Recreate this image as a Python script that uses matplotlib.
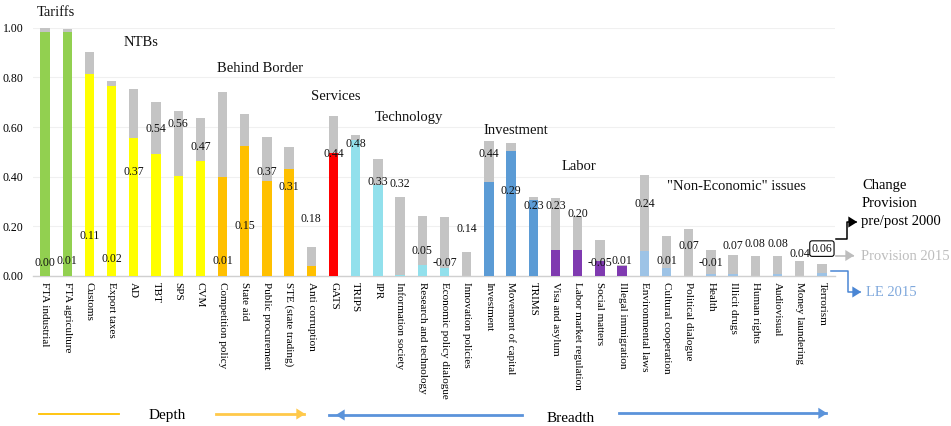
import matplotlib
matplotlib.use("Agg")
import matplotlib.pyplot as plt
from matplotlib.patches import FancyArrowPatch

plt.rcParams['font.family'] = ['Liberation Serif', 'DejaVu Serif']

categories = ["FTA industrial", "FTA agriculture", "Customs", "Export taxes", "AD", "TBT",
              "SPS", "CVM", "Competition policy", "State aid", "Public procurement",
              "STE (state trading)", "Anti corruption", "GATS", "TRIPS", "IPR",
              "Information society", "Research and technology", "Economic policy dialogue",
              "Innovation policies", "Investment", "Movement of capital", "TRIMS",
              "Visa and asylum", "Labor market regulation", "Social matters",
              "Illegal immigration", "Environmental laws", "Cultural cooperation",
              "Political dialogue", "Health", "Illicit drugs", "Human rights",
              "Audiovisual", "Money laundering", "Terrorism"]

groups = (["Tariffs"] * 2 + ["NTBs"] * 6 + ["Behind Border"] * 5 + ["Services"] * 1 +
          ["Technology"] * 6 + ["Investment"] * 3 + ["Labor"] * 4 + ["Non-Economic"] * 9)

provision_2015 = [1.00, 0.996, 0.903, 0.785, 0.754, 0.700, 0.665, 0.635, 0.743, 0.653,
                  0.560, 0.520, 0.116, 0.645, 0.567, 0.472, 0.320, 0.240, 0.237, 0.098,
                  0.544, 0.536, 0.320, 0.315, 0.243, 0.145, 0.045, 0.405, 0.160, 0.190,
                  0.105, 0.084, 0.081, 0.079, 0.062, 0.047]

le_2015 = [0.984, 0.981, 0.813, 0.764, 0.556, 0.493, 0.402, 0.463, 0.398, 0.524,
           0.382, 0.429, 0.041, 0.495, 0.546, 0.365, 0.006, 0.046, 0.032, 0.0,
           0.378, 0.502, 0.307, 0.105, 0.105, 0.062, 0.042, 0.102, 0.032, 0.0,
           0.010, 0.008, 0.0, 0.008, 0.0, 0.012]

change_pre_post_2000 = [0.00, 0.01, 0.11, 0.02, 0.37, 0.54, 0.56, 0.47, 0.01, 0.15,
                        0.37, 0.31, 0.18, 0.44, 0.48, 0.33, 0.32, 0.05, -0.07, 0.14,
                        0.44, 0.29, 0.23, 0.23, 0.20, -0.05, 0.01, 0.24, 0.01, 0.07,
                        -0.01, 0.07, 0.08, 0.08, 0.04, 0.06]

group_colors = {"Tariffs": "#92D050", "NTBs": "#FFFF00", "Behind Border": "#FFC000",
                "Services": "#FF0000", "Technology": "#92E0EC", "Investment": "#5B9BD5",
                "Labor": "#7F3AB0", "Non-Economic": "#9DC3E6"}

W, H = 951, 426
fig = plt.figure(figsize=(W / 100, H / 100), dpi=100)
ax = fig.add_axes([33 / W, 1 - 276 / H, (835 - 33) / W, (276 - 27.7) / H])

x = list(range(len(categories)))
bw = 0.42
ax.bar(x, provision_2015, width=bw, color="#C4C4C4", zorder=2)
ax.bar(x, le_2015, width=bw, color=[group_colors[g] for g in groups], zorder=3)

for i, c in enumerate(change_pre_post_2000):
    kw = {}
    if i == len(categories) - 1:
        kw['bbox'] = dict(boxstyle="round,pad=0.15,rounding_size=0.2", fc="white", ec="black", lw=0.8)
    ax.annotate(f"{c:.2f}", (i, max(c, 0)), xytext=(0, 9), textcoords="offset points",
                ha="center", va="center", fontsize=8.5, color="#111111", zorder=5, **kw)

ax.set_xlim(-0.54, 35.59)
ax.set_ylim(0, 1.0)
ax.set_yticks([0, 0.2, 0.4, 0.6, 0.8, 1.0])
ax.set_yticklabels([f"{v:.2f}" for v in [0, 0.2, 0.4, 0.6, 0.8, 1.0]], fontsize=8.5)
ax.set_xticks(x)
ax.set_xticklabels(categories, rotation=-90, fontsize=8, ha="center", va="top")
ax.tick_params(axis="both", length=0)
ax.tick_params(axis="x", pad=4)
ax.tick_params(axis="y", pad=7)
for s in ["top", "right", "left"]:
    ax.spines[s].set_visible(False)
ax.spines["bottom"].set_color("#D0D0D0")
ax.spines["bottom"].set_linewidth(1.0)
ax.grid(axis="y", color="#F0F0F0", lw=0.8, zorder=0)
ax.set_axisbelow(True)


def ftext(px, py, s, **kw):
    fig.text(px / W, 1 - py / H, s, **kw)


# group titles
titles = [(37, 13, "Tariffs"), (124, 43, "NTBs"), (217, 69, "Behind Border"),
          (311, 97, "Services"), (375, 117, "Technology"), (483, 130, "Investment"),
          (562, 166, "Labor"), (667, 186, '"Non-Economic" issues')]
for px, py, s in titles:
    ftext(px, py, s, fontsize=10.5, ha="left", va="center", color="#111111")

# legend-like annotations on the right
ftext(862, 186, "Change", fontsize=10.5, ha="left", va="center")
ftext(862, 203.5, "Provision", fontsize=10.5, ha="left", va="center")
ftext(861, 221, "pre/post 2000", fontsize=10.5, ha="left", va="center")
ftext(861, 256, "Provision 2015", fontsize=10.5, ha="left", va="center", color="#BDBDBD")
ftext(866, 292, "LE 2015", fontsize=10.5, ha="left", va="center", color="#7FA8DC")


def fpath(points, color, lw=1.2, head=True):
    pts = [(px / W, 1 - py / H) for px, py in points]
    xs = [p[0] for p in pts]
    ys = [p[1] for p in pts]
    if head:
        fig.add_artist(plt.Line2D(xs[:-1] + [xs[-1] - 0.004], ys, color=color, lw=lw,
                                  transform=fig.transFigure))
        a = FancyArrowPatch(pts[-2], pts[-1], transform=fig.transFigure,
                            arrowstyle="-|>,head_length=4,head_width=2.5",
                            color=color, lw=0, mutation_scale=1.6)
        fig.add_artist(a)
    else:
        fig.add_artist(plt.Line2D(xs, ys, color=color, lw=lw, transform=fig.transFigure))


fpath([(836, 238.5), (847, 238.5), (847, 222), (860, 222)], "black", lw=1.1)
fpath([(836, 255.5), (857, 255.5)], "#BDBDBD", lw=1.2)
fpath([(831, 271), (847.5, 271), (847.5, 292), (864, 292)], "#4A86D4", lw=1.1)

# depth / breadth arrows
fpath([(39, 414.3), (119, 414.3)], "#FFC000", lw=1.3, head=False)
ftext(167, 415, "Depth", fontsize=11, ha="center", va="center")
fpath([(216, 414), (308, 414)], "#FFC94A", lw=2.0)
fpath([(522, 415), (333, 415)], "#5B93DA", lw=2.0)
ftext(571, 418, "Breadth", fontsize=11, ha="center", va="center")
fpath([(619, 413.3), (830, 413.3)], "#5B93DA", lw=2.0)

fig.savefig("out.png", dpi=100)
